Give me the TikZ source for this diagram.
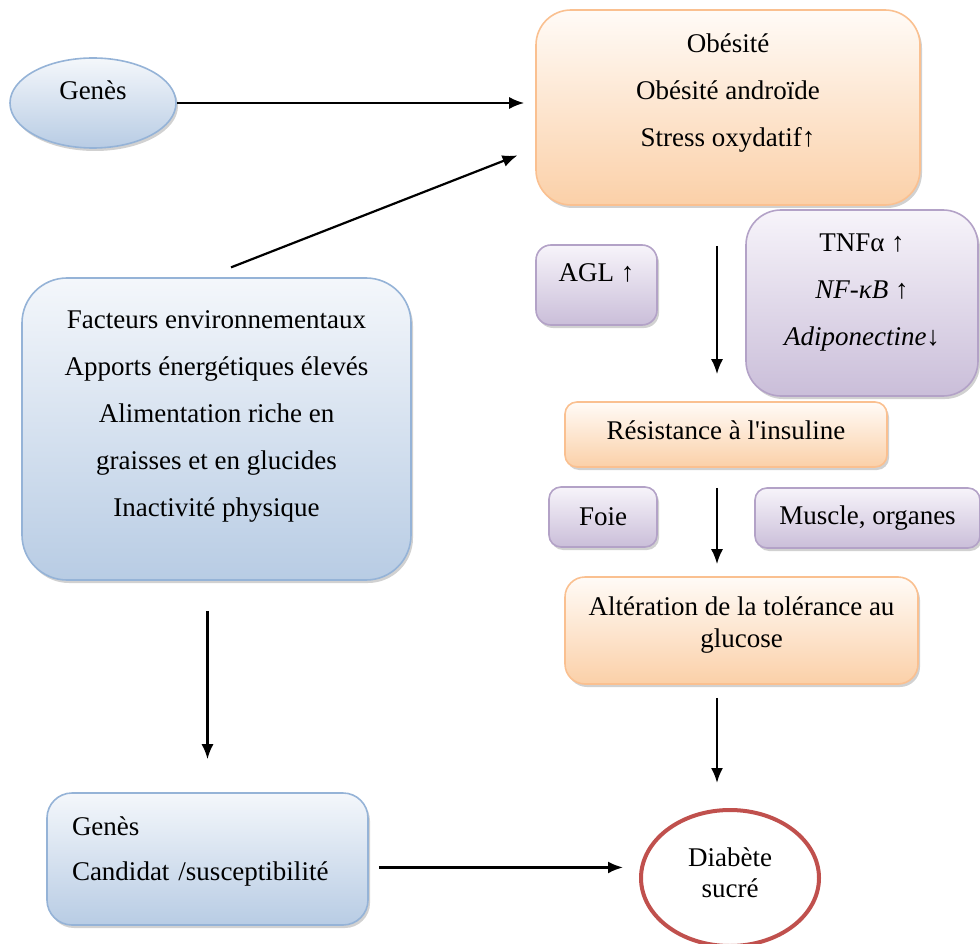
\documentclass[tikz,border=0pt]{standalone}
\usepackage{fontspec}
\setmainfont{Liberation Serif}
\usetikzlibrary{shapes.geometric,shadows,arrows.meta}

\definecolor{blueline}{HTML}{95B3D7}
\definecolor{bluetop}{HTML}{F4F7FB}
\definecolor{bluebot}{HTML}{B8CCE4}
\definecolor{orangeline}{HTML}{FAC090}
\definecolor{orangetop}{HTML}{FFFBF7}
\definecolor{orangebot}{HTML}{FBD0A8}
\definecolor{purpleline}{HTML}{B3A2C7}
\definecolor{purpletop}{HTML}{F7F4FA}
\definecolor{purplebot}{HTML}{CABED9}
\definecolor{diabred}{HTML}{C0504D}

\begin{document}
\begin{tikzpicture}[x=1pt,y=-1pt]
 \tikzstyle{arrow} = [->,>={Latex[length=15pt,width=12pt]},line width=2.2pt];
 \tikzstyle{box} = [rectangle,line width=1.6pt,align=center,inner sep=4pt,
                    font=\fontsize{27}{47}\selectfont,
                    drop shadow={shadow xshift=2pt,shadow yshift=-3pt,opacity=0.3,fill=black!60}];
 \tikzstyle{boxB} = [draw=blueline,top color=bluetop,bottom color=bluebot];
 \tikzstyle{boxO} = [draw=orangeline,top color=orangetop,bottom color=orangebot];
 \tikzstyle{boxP} = [draw=purpleline,top color=purpletop,bottom color=purplebot];

 \useasboundingbox (0,0) rectangle (980,944);

 \node[box,boxB,ellipse,name=g,minimum width=166pt,minimum height=90pt,text depth=26pt]
   at (93,103) {Genès};
 \node[box,boxO,name=ob,rounded corners=35pt,minimum width=384pt,minimum height=195pt,text depth=34pt]
   at (728,107.5) {Obésité\\Obésité androïde\\Stress oxydatif↑};
 \node[box,boxP,name=agl,rounded corners=15pt,minimum width=121pt,minimum height=80pt,text depth=24pt]
   at (596.5,285) {AGL ↑};
 \node[box,boxP,name=tnf,rounded corners=35pt,minimum width=232pt,minimum height=186pt,text depth=26pt]
   at (862,303) {TNFα ↑\\\textit{NF-κB} ↑\\\textit{Adiponectine}↓};
 \node[box,boxO,name=res,rounded corners=12pt,minimum width=322pt,minimum height=65pt,text depth=8pt]
   at (726,434.5) {Résistance à l\textquotesingle insuline};
 \node[box,boxP,name=foie,rounded corners=12pt,minimum width=108pt,minimum height=60pt]
   at (603,517) {Foie};
 \node[box,boxP,name=mus,rounded corners=12pt,minimum width=225pt,minimum height=60pt]
   at (867.5,518) {Muscle, organes};
 \node[box,boxO,name=alt,rounded corners=20pt,minimum width=353pt,minimum height=107pt,text depth=16pt,
       font=\fontsize{27}{32}\selectfont]
   at (741.5,630.5) {Altération de la tolérance au\\glucose};
 \node[box,boxB,name=fact,rounded corners=45pt,minimum width=389pt,minimum height=302pt,text depth=30pt]
   at (216.5,429) {Facteurs environnementaux\\Apports énergétiques élevés\\Alimentation riche en\\graisses et en glucides\\Inactivité physique};
 \node[box,boxB,name=gc,rounded corners=25pt,minimum width=321pt,minimum height=132pt,text depth=66pt,
       align=left,text width=271pt,inner xsep=25pt,font=\fontsize{27}{45}\selectfont]
   at (207.5,859) {Genès\\Candidat /susceptibilité};
 \node[ellipse,name=diab,draw=diabred,line width=4pt,fill=white,minimum width=178pt,minimum height=136pt,
       align=center,text depth=10pt,font=\fontsize{27}{31}\selectfont]
   at (730,878) {Diabète\\sucré};

 \coordinate (col) at (717,0);

 \path (g.east) edge [arrow,shorten >=11pt] (g.east -| ob.west);
 \path (fact.94) edge [arrow,shorten <=27pt,shorten >=19pt] (ob.192);
 \path (fact.south -| gc.north) edge [arrow,shorten <=30pt,shorten >=33pt] (gc.north);
 \path (gc.-3) edge [arrow,shorten <=10pt,shorten >=16pt] (gc.-3 -| diab.west);
 \path (ob.south -| col) edge [arrow,shorten <=40pt,shorten >=27pt] (res.north -| col);
 \path (res.south -| col) edge [arrow,shorten <=20pt,shorten >=12pt] (alt.north -| col);
 \path (alt.south -| col) edge [arrow,shorten <=13pt,shorten >=25pt] (diab.north -| col);
\end{tikzpicture}
\end{document}
